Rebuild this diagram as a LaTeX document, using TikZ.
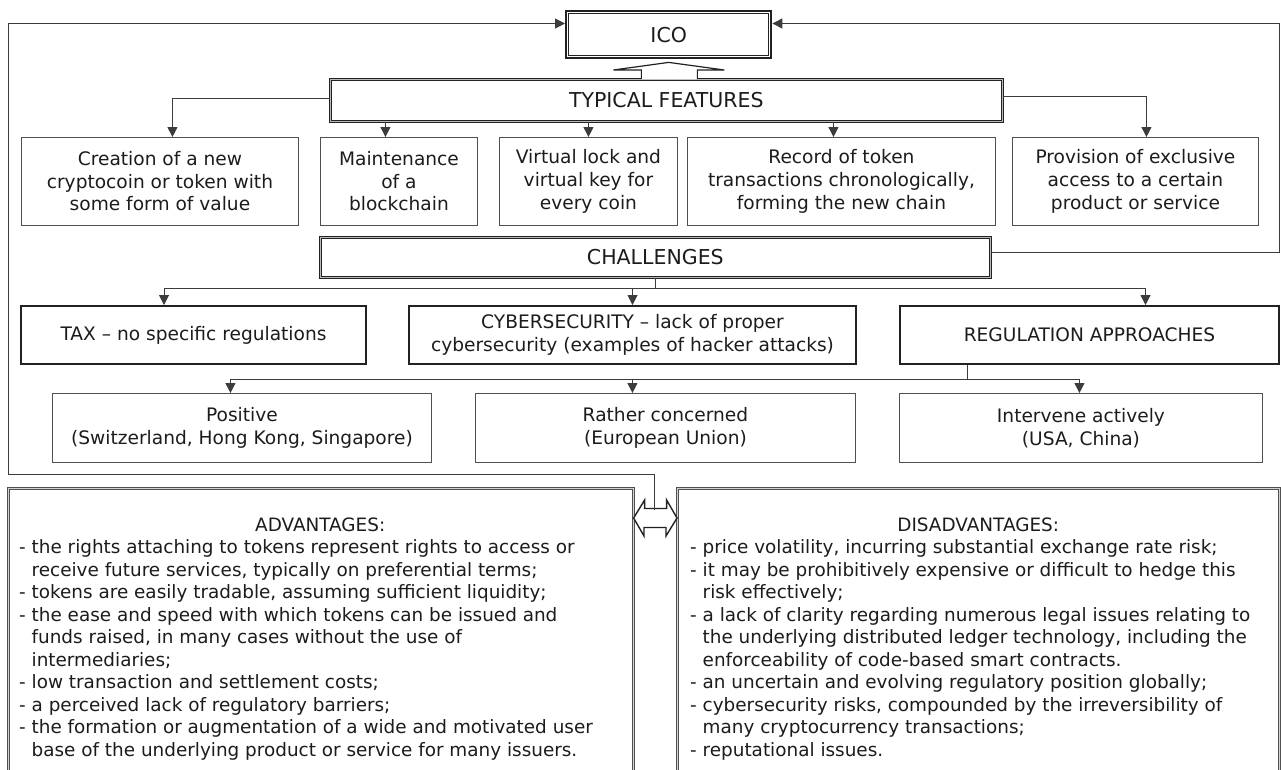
\documentclass[tikz,border=0pt]{standalone}
\usepackage{fontspec}
\setmainfont{DejaVu Sans}
\usetikzlibrary{arrows.meta,calc}
\definecolor{ln}{HTML}{3C3C3C}
\definecolor{bd}{HTML}{505050}
\definecolor{dk}{HTML}{222222}
\definecolor{tx}{HTML}{1C1C1C}
\newcommand\myBody{\fontsize{18.6}{22.6}\selectfont}
\newcommand\myHead{\fontsize{20.5}{24}\selectfont}
\newcommand\myList{\fontsize{18.4}{22.5}\selectfont}
\newcommand\myind{\hphantom{- }}
\begin{document}
\begin{tikzpicture}[x=1pt,y=-1pt,
  every node/.style={inner sep=0pt,text=tx,font=\myBody},
  box/.style={anchor=north west,align=center,draw=bd,line width=0.9pt},
  thickbox/.style={anchor=north west,align=center,draw=dk,line width=2pt},
  dbl/.style={anchor=north west,align=center,draw=dk,line width=0.7pt,double=gray!55,double distance=1.6pt,font=\myHead},
  lbox/.style={anchor=north west,draw=bd,line width=0.6pt,double=gray!35,double distance=1.4pt},
  conn/.style={draw=ln,line width=1pt},
  arr/.style={-{Triangle[length=10pt,width=10pt]}},
  hollow/.style={draw=dk,line width=1.2pt,fill=white,line join=miter}]
\useasboundingbox (0,0) rectangle (1281,769);
\clip (0,0) rectangle (1281,769);
\fill[white] (0,0) rectangle (1281,769);

% top
\node[anchor=north west,draw=dk,line width=2.4pt,minimum width=205,minimum height=47,font=\myHead] (ico) at (565,10) {ICO};
\draw[dk,line width=0.8pt] ([shift={(3.8pt,-3.8pt)}]ico.north west) rectangle ([shift={(-3.8pt,3.8pt)}]ico.south east);

\node[dbl,minimum width=672,minimum height=42] (tf) at (330,79) {TYPICAL FEATURES};

\node[box,minimum width=277,minimum height=88] (f1) at (21,137) {Creation of a new\\cryptocoin or token with\\some form of value};
\node[box,minimum width=157,minimum height=88] (f2) at (320,137) {Maintenance\\of a\\blockchain};
\node[box,minimum width=178,minimum height=88] (f3) at (499,137) {Virtual lock and\\virtual key for\\every coin};
\node[box,minimum width=308,minimum height=88] (f4) at (687,137) {Record of token\\transactions chronologically,\\forming the new chain};
\node[box,minimum width=246,minimum height=88] (f5) at (1012,137) {Provision of exclusive\\access to a certain\\product or service};

\node[dbl,minimum width=670,minimum height=40] (ch) at (320,237) {CHALLENGES};

\node[thickbox,minimum width=345,minimum height=58] (tax) at (20,305) {TAX – no specific regulations};
\node[thickbox,minimum width=447,minimum height=58] (cyb) at (408,305) {CYBERSECURITY – lack of proper\\cybersecurity (examples of hacker attacks)};
\node[thickbox,minimum width=379,minimum height=58] (reg) at (899,305) {REGULATION APPROACHES};

\node[box,minimum width=379,minimum height=69] (pos) at (52,393) {Positive\\(Switzerland, Hong Kong, Singapore)};
\node[box,minimum width=380,minimum height=69] (rc) at (475,393) {Rather concerned\\(European Union)};
\node[box,minimum width=363,minimum height=69] (int) at (899,393) {Intervene actively\\(USA, China)};

\node[lbox,minimum width=625,minimum height=300] (adv) at (8,488) {};
\node[lbox,minimum width=602,minimum height=300] (dis) at (677,488) {};

\node[anchor=base west,font=\myList] (advt) at (19,531) {\begin{minipage}[t]{700pt}\makebox[602pt]{ADVANTAGES:}\\
- the rights attaching to tokens represent rights to access or\\
\myind receive future services, typically on preferential terms;\\
- tokens are easily tradable, assuming sufficient liquidity;\\
- the ease and speed with which tokens can be issued and\\
\myind funds raised, in many cases without the use of\\
\myind intermediaries;\\
- low transaction and settlement costs;\\
- a perceived lack of regulatory barriers;\\
- the formation or augmentation of a wide and motivated user\\
\myind base of the underlying product or service for many issuers.\end{minipage}};

\node[anchor=base west,font=\myList] (dist) at (690,531) {\begin{minipage}[t]{700pt}\makebox[576pt]{DISADVANTAGES:}\\
- price volatility, incurring substantial exchange rate risk;\\
- it may be prohibitively expensive or difficult to hedge this\\
\myind risk effectively;\\
- a lack of clarity regarding numerous legal issues relating to\\
\myind the underlying distributed ledger technology, including the\\
\myind enforceability of code-based smart contracts.\\
- an uncertain and evolving regulatory position globally;\\
- cybersecurity risks, compounded by the irreversibility of\\
\myind many cryptocurrency transactions;\\
- reputational issues.\end{minipage}};

% hollow arrow TF -> ICO
\draw[hollow] ($(tf.north)+(-25,0)$) -- ++(0,-9) -- ++(-28,0) -- ($(ico.south)+(0,3)$) -- ($(tf.north)+(58,-9)$) -- ($(tf.north)+(31,-9)$) -- ($(tf.north)+(31,0)$);

% double arrow ADV <-> DIS
\coordinate (dy) at (655,518);
\draw[hollow,line width=1.4pt] (adv.east |- dy) -- ++(11,-18) -- ++(0,8.5) -- ++(22,0) -- ++(0,-8.5) -- (dis.west |- dy) -- ++(-11,18) -- ++(0,-8.5) -- ++(-22,0) -- ++(0,8.5) -- cycle;

% frame connectors
\coordinate (ytop) at (8.5,23.5);
\coordinate (rtop) at (1279.5,23.5);
\coordinate (rmid) at (1279.5,252.5);
\coordinate (lb) at (8.5,474.5);
\coordinate (dtop) at (654.5,509.5);
\draw[conn,arr] (dtop) -- (dtop |- lb) -- (lb) -- (ytop) -- (ico.west |- ytop);
\draw[conn,arr] (ch.east |- rmid) -- (rmid) -- (rtop) -- (ico.east |- rtop);

% features
\draw[conn,arr] ([yshift=2pt]tf.west) -| ([xshift=12.5pt]f1.north);
\draw[conn,arr] ([xshift=-13.5pt]f2.north |- tf.south) -- ([xshift=-13.5pt]f2.north);
\draw[conn,arr] (f3.north |- tf.south) -- (f3.north);
\draw[conn,arr] ([xshift=-8pt]f4.north |- tf.south) -- ([xshift=-8pt]f4.north);
\draw[conn,arr] ([yshift=4pt]tf.east) -| ([xshift=11pt]f5.north);

% challenges
\draw[conn] (ch.south) -- ++(0,11) coordinate (cj);
\draw[conn,arr] (cj) -| ([xshift=-29.5pt]tax.north);
\draw[conn,arr] (cj) -| (cyb.north);
\draw[conn,arr] (cj) -| ([xshift=56pt]reg.north);

% regulation approaches
\draw[conn] ([xshift=-122.5pt]reg.south) -- ++(0,14) coordinate (rj);
\draw[conn,arr] (rj) -| ([xshift=-11.5pt]pos.north);
\draw[conn,arr] (rj) -| ([xshift=-33pt]rc.north);
\draw[conn,arr] (rj) -| ([xshift=-1.5pt]int.north);
\end{tikzpicture}
\end{document}
